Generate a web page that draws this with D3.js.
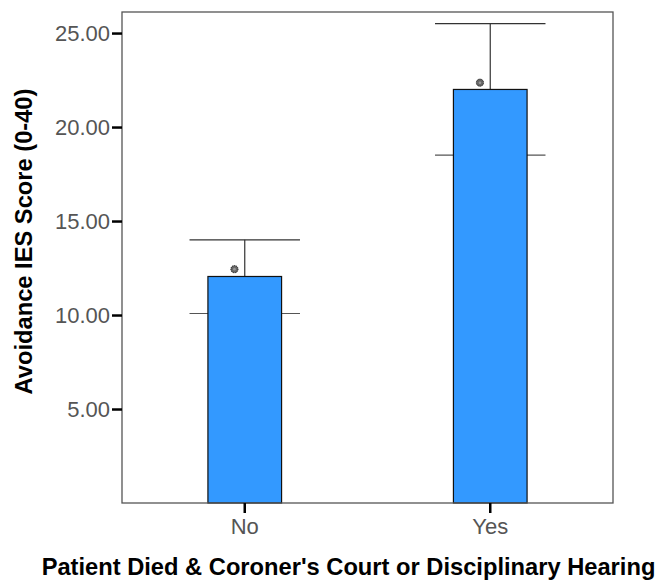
<!DOCTYPE html>
<html>
<head>
<meta charset="utf-8">
<script src="https://cdn.jsdelivr.net/npm/d3@7"></script>
<style>
  body { margin: 0; background: #fff; }
  text { font-family: "Liberation Sans", Arial, sans-serif; }
</style>
</head>
<body>
<div id="chart"></div>
<script>
// chart data
var categories = ["No", "Yes"];
var means = [12.05, 22.0];
var ciLow = [10.08, 18.51];
var ciHigh = [14.0, 25.5];
var markers = [12.44, 22.36];
var yTicks = [5, 10, 15, 20, 25];

var width = 660, height = 581;
var plot = {left: 122, right: 613, top: 12, bottom: 503};

var svg = d3.select("#chart").append("svg")
    .attr("width", width)
    .attr("height", height);

var x = d3.scaleBand()
    .domain(categories)
    .range([plot.left, plot.right]);

var y = d3.scaleLinear()
    .domain([0, 26.12])
    .range([plot.bottom, plot.top]);

var data = categories.map(function(c, i) {
  return {cat: c, mean: means[i], lo: ciLow[i], hi: ciHigh[i], mark: markers[i]};
});

var barW = x.bandwidth() * 0.3;
var capW = x.bandwidth() * 0.45;

// error bars go behind the bars
var err = svg.append("g").selectAll("g")
    .data(data)
    .enter().append("g");

err.append("line")
    .attr("x1", function(d) { return x(d.cat) + x.bandwidth() / 2; })
    .attr("x2", function(d) { return x(d.cat) + x.bandwidth() / 2; })
    .attr("y1", function(d) { return y(d.lo); })
    .attr("y2", function(d) { return y(d.hi); })
    .style("stroke", "#333")
    .style("stroke-width", 1.2);

err.append("line")
    .attr("x1", function(d) { return x(d.cat) + (x.bandwidth() - capW) / 2; })
    .attr("x2", function(d) { return x(d.cat) + (x.bandwidth() + capW) / 2; })
    .attr("y1", function(d) { return y(d.hi); })
    .attr("y2", function(d) { return y(d.hi); })
    .style("stroke", "#333")
    .style("stroke-width", 1.2);

err.append("line")
    .attr("x1", function(d) { return x(d.cat) + (x.bandwidth() - capW) / 2; })
    .attr("x2", function(d) { return x(d.cat) + (x.bandwidth() + capW) / 2; })
    .attr("y1", function(d) { return y(d.lo); })
    .attr("y2", function(d) { return y(d.lo); })
    .style("stroke", "#555")
    .style("stroke-width", 1.2);

// bars
svg.append("g").selectAll("rect")
    .data(data)
    .enter().append("rect")
      .attr("x", function(d) { return x(d.cat) + (x.bandwidth() - barW) / 2; })
      .attr("width", barW)
      .attr("y", function(d) { return y(d.mean); })
      .attr("height", function(d) { return y(0) - y(d.mean); })
      .style("fill", "#3399ff")
      .style("stroke", "#111")
      .style("stroke-width", 1.2);

// little markers above the bars
var mk = svg.append("g").selectAll("g")
    .data(data)
    .enter().append("g")
      .attr("transform", function(d) {
        return "translate(" + (x(d.cat) + x.bandwidth() / 2 - 10.3) + "," + y(d.mark) + ")";
      });
mk.append("circle")
    .attr("r", 3.6)
    .style("fill", "#666")
    .style("stroke", "#222")
    .style("stroke-width", 1)
    .style("stroke-dasharray", "1.2,0.8");
mk.append("circle")
    .attr("r", 1.3)
    .style("fill", "#999");

// frame
svg.append("rect")
    .attr("x", plot.left)
    .attr("y", plot.top)
    .attr("width", plot.right - plot.left)
    .attr("height", plot.bottom - plot.top)
    .style("fill", "none")
    .style("stroke", "#555")
    .style("stroke-width", 1.3);

// y axis
var yAxis = svg.append("g")
    .attr("transform", "translate(" + plot.left + ",0)")
    .call(d3.axisLeft(y).tickValues(yTicks).tickFormat(d3.format(".2f")).tickSize(10).tickPadding(2));
yAxis.select(".domain").remove();
yAxis.selectAll("line").style("stroke", "#000").style("stroke-width", 2.5);
yAxis.selectAll("text")
    .style("font-size", "22px")
    .style("font-family", "'Liberation Sans', Arial, sans-serif")
    .style("fill", "#555");

// x axis
var xAxis = svg.append("g")
    .attr("transform", "translate(0," + plot.bottom + ")")
    .call(d3.axisBottom(x).tickSize(10).tickPadding(5));
xAxis.select(".domain").remove();
xAxis.selectAll("line").style("stroke", "#000").style("stroke-width", 2.5);
xAxis.selectAll("text")
    .style("font-size", "22px")
    .style("font-family", "'Liberation Sans', Arial, sans-serif")
    .style("fill", "#555");

// axis titles
svg.append("text")
    .attr("x", 348.5)
    .attr("y", 575)
    .attr("text-anchor", "middle")
    .style("font-size", "23.7px")
    .style("font-weight", "bold")
    .style("fill", "#000")
    .text("Patient Died & Coroner's Court or Disciplinary Hearing");

svg.append("text")
    .attr("transform", "translate(32,241.5)rotate(-90)")
    .attr("text-anchor", "middle")
    .style("font-size", "23.7px")
    .style("font-weight", "bold")
    .style("fill", "#000")
    .text("Avoidance IES Score (0-40)");
</script>
</body>
</html>
